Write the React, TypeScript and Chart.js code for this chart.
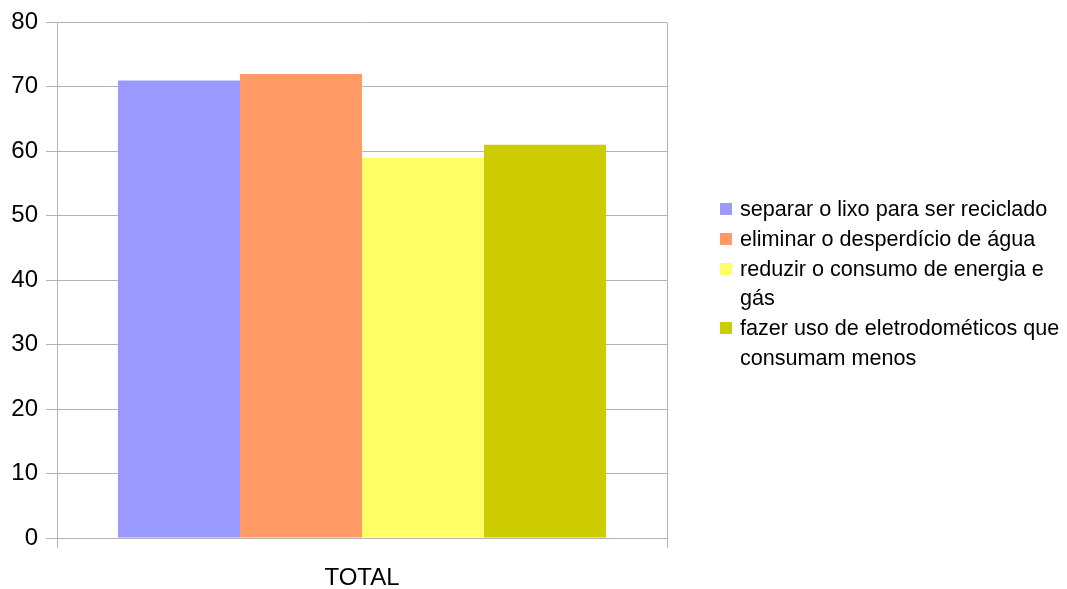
import React, { useEffect, useRef } from "react";
import { Chart, registerables } from "chart.js";

Chart.register(...registerables);

const categories = ["TOTAL"];
const seriesLabels = [
  "separar o lixo para ser reciclado",
  "eliminar o desperdício de água",
  "reduzir o consumo de energia e gás",
  "fazer uso de eletrodométicos que consumam menos",
];
const seriesValues = [[71], [72], [59], [61]];
const seriesColors = ["#9999ff", "#ff9966", "#ffff66", "#cccc00"];
const yMin = 0;
const yMax = 80;
const yStep = 10;

const FONT = "'Liberation Sans', Arial, sans-serif";
const GRID = "#b3b3b3";

export default function App() {
  const canvasRef = useRef<HTMLCanvasElement | null>(null);

  useEffect(() => {
    const canvas = canvasRef.current;
    if (!canvas) return;
    const chart = new Chart(canvas, {
      type: "bar",
      data: {
        labels: categories,
        datasets: seriesLabels.map((label, i) => ({
          label,
          data: seriesValues[i],
          backgroundColor: seriesColors[i],
          borderWidth: 0,
          categoryPercentage: 0.8,
          barPercentage: 1.0,
        })),
      },
      options: {
        animation: false,
        responsive: false,
        maintainAspectRatio: false,
        layout: { padding: { top: 19.5, right: 400, left: 0, bottom: 0 } },
        plugins: {
          legend: { display: false },
          tooltip: { enabled: false },
        },
        scales: {
          x: {
            grid: {
              color: GRID,
              lineWidth: 1,
              tickLength: 10,
              offset: true,
            },
            border: { color: GRID, width: 1 },
            ticks: {
              color: "#000",
              font: { family: FONT, size: 24 },
              padding: 16,
            },
            afterFit: (scale: any) => {
              scale.height = 589 - 538;
            },
          },
          y: {
            min: yMin,
            max: yMax,
            grid: { color: GRID, lineWidth: 1, tickLength: 11, drawTicks: true },
            border: { color: GRID, width: 1 },
            ticks: {
              stepSize: yStep,
              color: "#000",
              font: { family: FONT, size: 24 },
              padding: 8,
            },
            afterFit: (scale: any) => {
              scale.width = 57;
            },
          },
        },
      },
    });
    return () => chart.destroy();
  }, []);

  return (
    <div
      style={{
        position: "fixed",
        left: 0,
        top: 0,
        width: 1067,
        height: 589,
        background: "#fff",
      }}
    >
      <canvas ref={canvasRef} width={1067} height={589} style={{ display: "block" }} />
      <div
        style={{
          position: "absolute",
          left: 720,
          top: 194,
          width: 347,
          fontFamily: FONT,
          fontSize: 21.6,
          lineHeight: "29.8px",
          color: "#000",
        }}
      >
        {seriesLabels.map((label, i) => (
          <div key={label} style={{ display: "flex", alignItems: "flex-start" }}>
            <div
              style={{
                width: 12,
                height: 12,
                marginTop: 9,
                marginRight: 8,
                background: seriesColors[i],
                flex: "0 0 auto",
              }}
            />
            <div style={{ width: 332 }}>{label}</div>
          </div>
        ))}
      </div>
    </div>
  );
}
